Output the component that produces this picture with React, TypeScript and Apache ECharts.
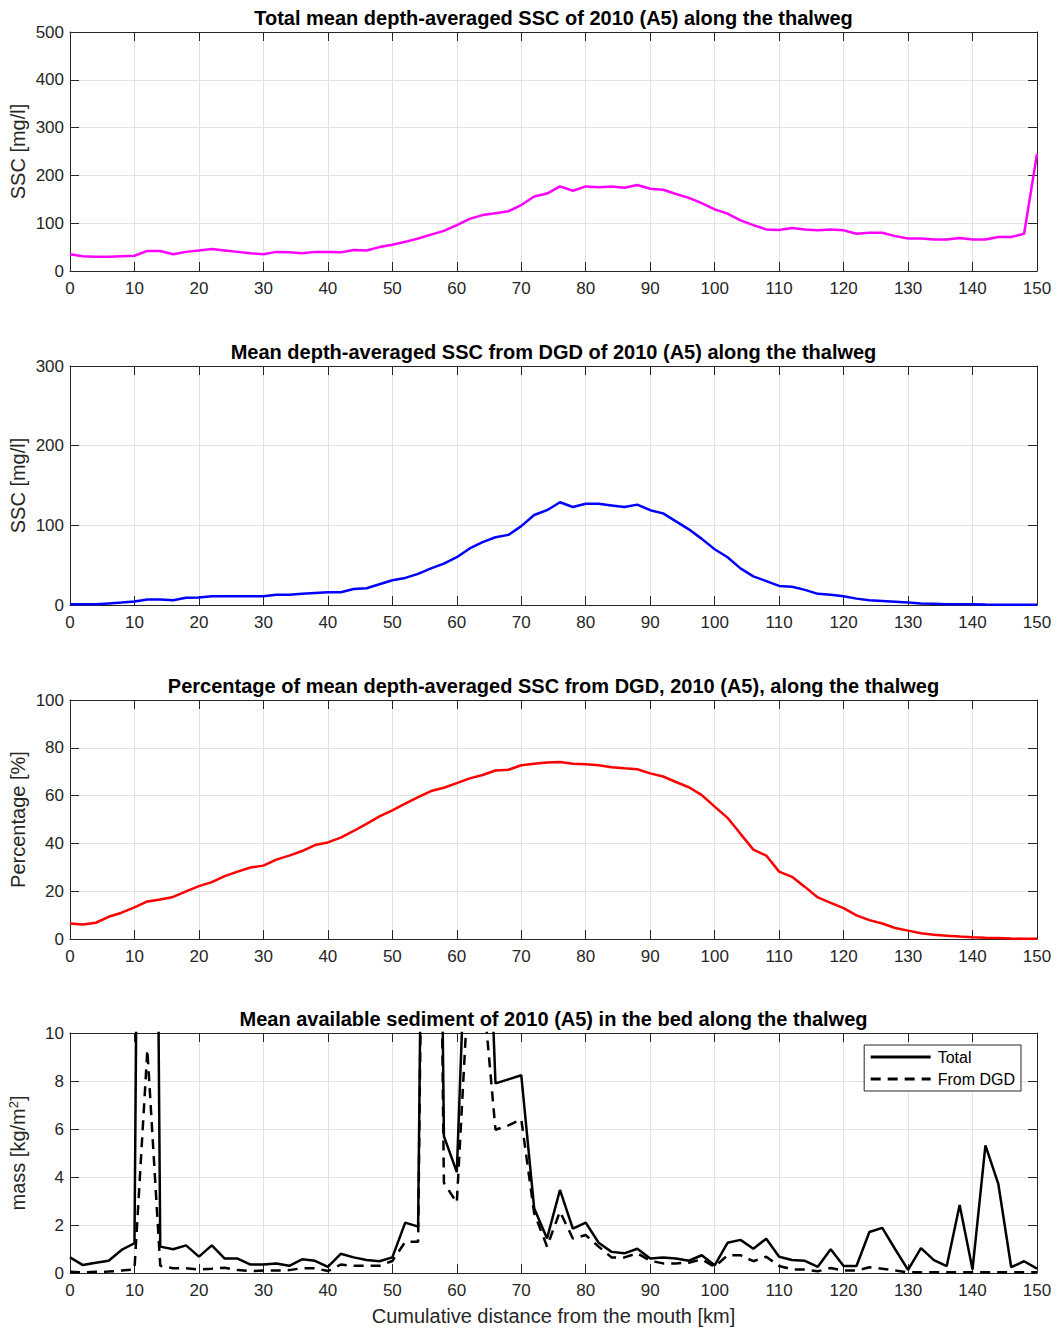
import React, { useEffect, useRef } from "react";
import * as echarts from "echarts";

const distanceKm = [0, 2, 4, 6, 8, 10, 12, 14, 16, 18, 20, 22, 24, 26, 28, 30, 32, 34, 36, 38, 40, 42, 44, 46, 48, 50, 52, 54, 56, 58, 60, 62, 64, 66, 68, 70, 72, 74, 76, 78, 80, 82, 84, 86, 88, 90, 92, 94, 96, 98, 100, 102, 104, 106, 108, 110, 112, 114, 116, 118, 120, 122, 124, 126, 128, 130, 132, 134, 136, 138, 140, 142, 144, 146, 148, 150];

const totalSSC = [35, 31, 30, 30, 31, 32, 42, 42, 35, 40, 43, 46, 43, 40, 37, 35, 40, 39, 37, 40, 40, 39, 44, 43, 50, 55, 61, 68, 76, 84, 96, 109, 117, 121, 125, 138, 156, 162, 177, 168, 177, 175, 177, 174, 180, 172, 170, 161, 153, 142, 129, 120, 106, 96, 87, 86, 90, 87, 85, 87, 85, 78, 80, 80, 73, 68, 68, 66, 66, 69, 66, 66, 71, 71, 78, 245];

const dgdSSC = [1, 1, 1, 2, 3, 4.5, 7, 7, 6, 9, 9.5, 11, 11, 11, 11, 11, 13, 13, 14, 15, 16, 16, 20, 21, 26, 31, 34, 39, 46, 52, 60, 71, 79, 85, 88, 99, 113, 119, 129, 123, 127, 127, 125, 123, 126, 119, 115, 105, 95, 83, 70, 60, 46, 36, 30, 24, 23, 19, 14, 13, 11, 8, 6, 5, 4, 3, 2, 1.5, 1, 1, 0.8, 0.5, 0.4, 0.3, 0.3, 0.3];

const dgdPercent = [6.5, 6.1, 6.8, 9.3, 11, 13.2, 15.7, 16.5, 17.6, 19.9, 22.1, 23.8, 26.3, 28.2, 29.9, 30.7, 33.2, 34.9, 36.8, 39.3, 40.4, 42.4, 45.2, 48.2, 51.3, 53.8, 56.6, 59.4, 61.9, 63.3, 65.2, 67.2, 68.6, 70.5, 70.8, 72.7, 73.3, 73.8, 74.1, 73.3, 73.1, 72.7, 71.9, 71.4, 71, 69.3, 68, 65.7, 63.5, 60.2, 55.4, 50.7, 44, 37.4, 34.9, 28.2, 26, 21.8, 17.4, 15.1, 12.9, 9.9, 7.9, 6.5, 4.6, 3.5, 2.4, 1.8, 1.4, 1, 0.7, 0.5, 0.4, 0.2, 0.1, 0.1];

const massTotal = [0.65, 0.33, 0.43, 0.51, 0.96, 1.24, 70, 1.1, 0.99, 1.15, 0.68, 1.15, 0.6, 0.6, 0.35, 0.35, 0.4, 0.3, 0.57, 0.51, 0.26, 0.8, 0.65, 0.54, 0.49, 0.65, 2.1, 1.93, 55, 5.7, 4.2, 19, 22, 7.9, 8.07, 8.24, 2.7, 1.44, 3.46, 1.85, 2.1, 1.26, 0.88, 0.82, 1.01, 0.6, 0.65, 0.6, 0.51, 0.74, 0.32, 1.26, 1.38, 1.01, 1.43, 0.68, 0.54, 0.51, 0.26, 0.99, 0.29, 0.29, 1.71, 1.88, 0.99, 0.13, 1.04, 0.54, 0.29, 2.83, 0.15, 5.32, 3.71, 0.24, 0.49, 0.18];

const massDGD = [0.05, 0.03, 0.05, 0.06, 0.1, 0.15, 9.3, 0.3, 0.2, 0.2, 0.15, 0.18, 0.22, 0.12, 0.08, 0.1, 0.1, 0.12, 0.2, 0.2, 0.08, 0.35, 0.3, 0.3, 0.3, 0.5, 1.3, 1.3, 50, 3.76, 2.93, 13, 12, 5.97, 6.15, 6.4, 2.5, 1.1, 2.56, 1.44, 1.58, 1.1, 0.65, 0.65, 0.82, 0.51, 0.4, 0.4, 0.43, 0.57, 0.26, 0.74, 0.74, 0.49, 0.68, 0.29, 0.15, 0.15, 0.07, 0.21, 0.1, 0.1, 0.24, 0.18, 0.1, 0.03, 0.03, 0.03, 0.03, 0.03, 0.03, 0.03, 0.03, 0.03, 0.03, 0.03];

const panelTitles = [
  "Total mean depth-averaged SSC of 2010 (A5) along the thalweg",
  "Mean depth-averaged SSC from DGD of 2010 (A5) along the thalweg",
  "Percentage of mean depth-averaged SSC from DGD, 2010 (A5), along the thalweg",
  "Mean available sediment of 2010 (A5) in the bed along the thalweg",
];
const yNames = ["SSC [mg/l]", "SSC [mg/l]", "Percentage [%]", "mass [kg/m{sup|2}]"];
const yMax = [500, 300, 100, 10];
const yInterval = [100, 100, 20, 2];
const xLabel = "Cumulative distance from the mouth [km]";
const legendNames = ["Total", "From DGD"];

const FONT = "Liberation Sans, Arial, sans-serif";
const AX = "#262626";

function pairs(ys: number[]) {
  return distanceKm.map((x, i) => [x, ys[i]]);
}

export default function App() {
  const ref = useRef<HTMLDivElement>(null);
  useEffect(() => {
    if (!ref.current) return;
    const chart = echarts.init(ref.current, null, { renderer: "svg" });
    const tops = [32, 366, 700, 1033];
    const heights = [239, 239, 239, 240];
    const grids: any[] = [];
    const xAxes: any[] = [];
    const yAxes: any[] = [];
    const titles: any[] = [];
    for (let i = 0; i < 4; i++) {
      grids.push({ left: 70, right: 22, top: tops[i], height: heights[i], outerBoundsMode: "none", containLabel: false });
      titles.push({
        text: panelTitles[i],
        left: 553.5,
        textAlign: "center",
        top: tops[i] - 24,
        padding: 0,
        textStyle: { fontFamily: FONT, fontSize: 20, fontWeight: "bold", color: "#000" },
      });
      xAxes.push({
        type: "value",
        gridIndex: i,
        min: 0,
        max: 150,
        interval: 10,
        position: "bottom",
        name: i === 3 ? xLabel : "",
        nameLocation: "middle",
        nameGap: 33,
        nameMoveOverlap: false,
        nameTextStyle: { fontFamily: FONT, fontSize: 20, color: AX },
        axisLine: { show: true, onZero: false, lineStyle: { color: AX, width: 1 } },
        axisTick: { show: true, inside: true, length: 9, lineStyle: { color: AX } },
        axisLabel: { fontFamily: FONT, fontSize: 17, color: AX, margin: 9 },
        splitLine: { show: true, lineStyle: { color: "#e2e2e2", width: 1 } },
      });
      xAxes.push({
        type: "value",
        gridIndex: i,
        min: 0,
        max: 150,
        interval: 10,
        position: "top",
        axisLine: { show: true, onZero: false, lineStyle: { color: AX, width: 1 } },
        axisTick: { show: true, inside: true, length: 9, lineStyle: { color: AX } },
        axisLabel: { show: false },
        splitLine: { show: false },
      });
      yAxes.push({
        type: "value",
        gridIndex: i,
        min: 0,
        max: yMax[i],
        interval: yInterval[i],
        position: "left",
        name: yNames[i],
        nameLocation: "middle",
        nameGap: 42,
        nameMoveOverlap: false,
        nameTextStyle: {
          fontFamily: FONT,
          fontSize: 20,
          color: AX,
          rich: { sup: { fontFamily: FONT, fontSize: 13, color: AX, verticalAlign: "top", padding: [0, 0, 8, 0] } },
        },
        axisLine: { show: true, onZero: false, lineStyle: { color: AX, width: 1 } },
        axisTick: { show: true, inside: true, length: 9, lineStyle: { color: AX } },
        axisLabel: { fontFamily: FONT, fontSize: 17, color: AX, margin: 6 },
        splitLine: { show: true, lineStyle: { color: "#e2e2e2", width: 1 } },
      });
      yAxes.push({
        type: "value",
        gridIndex: i,
        min: 0,
        max: yMax[i],
        interval: yInterval[i],
        position: "right",
        axisLine: { show: true, onZero: false, lineStyle: { color: AX, width: 1 } },
        axisTick: { show: true, inside: true, length: 9, lineStyle: { color: AX } },
        axisLabel: { show: false },
        splitLine: { show: false },
      });
    }
    const mk = (name: string, data: number[], gi: number, color: string, width: number, type: any) => ({
      name,
      type: "line",
      xAxisIndex: gi * 2,
      yAxisIndex: gi * 2,
      data: pairs(data),
      symbol: "none",
      clip: true,
      lineStyle: { color, width, type },
      itemStyle: { color },
    });
    chart.setOption({
      animation: false,
      backgroundColor: "#fff",
      title: titles,
      grid: grids,
      xAxis: xAxes,
      yAxis: yAxes,
      legend: {
        data: legendNames,
        orient: "vertical",
        right: 38,
        top: 1045,
        itemWidth: 60,
        itemHeight: 16,
        itemGap: 6,
        padding: [4, 6, 4, 5],
        borderColor: AX,
        borderWidth: 1,
        backgroundColor: "#fff",
        itemStyle: { opacity: 0, borderWidth: 0 },
        lineStyle: { width: 3 },
        textStyle: { fontFamily: FONT, fontSize: 16, color: "#000", padding: [0, 0, 0, 2] },
      },
      series: [
        mk("ssc_total", totalSSC, 0, "#ff00ff", 2.5, "solid"),
        mk("ssc_dgd", dgdSSC, 1, "#0000ff", 2.5, "solid"),
        mk("pct_dgd", dgdPercent, 2, "#ff0000", 2.5, "solid"),
        mk(legendNames[0], massTotal, 3, "#000000", 2.5, "solid"),
        mk(legendNames[1], massDGD, 3, "#000000", 2.5, [10, 7]),
      ],
    });
    return () => chart.dispose();
  }, []);
  return <div ref={ref} style={{ position: "fixed", left: 0, top: 0, width: 1059, height: 1330 }} />;
}
